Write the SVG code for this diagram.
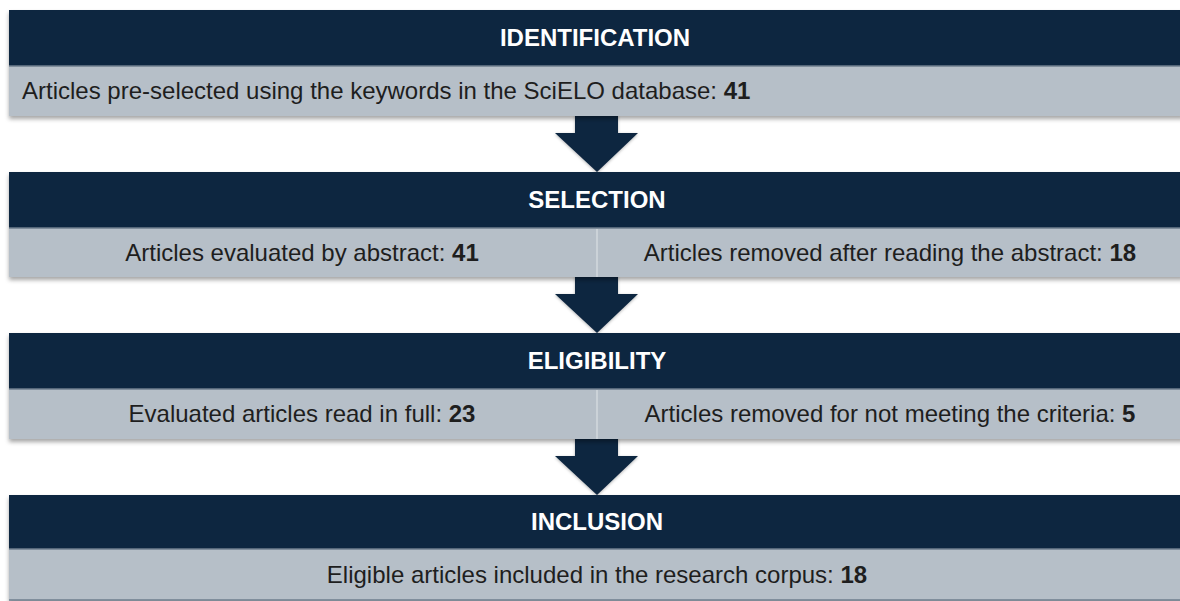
<svg xmlns="http://www.w3.org/2000/svg" width="1180" height="601" viewBox="0 0 1180 601">
<defs>
<filter id="sh" x="-5%" y="-20%" width="110%" height="150%">
<feDropShadow dx="0" dy="3" stdDeviation="2" flood-color="#000" flood-opacity="0.35"/>
</filter>
<filter id="ash" x="-30%" y="-30%" width="160%" height="160%">
<feDropShadow dx="0" dy="1" stdDeviation="1.5" flood-color="#000" flood-opacity="0.3"/>
</filter>
</defs>
<style>
.hd{fill:#0f2740}
.bd{fill:#b6bfc8}
.ln{stroke:#6e7e8e;stroke-width:1.5}
.dv{stroke:#d2d8de;stroke-width:1.5}
.ht{font-family:"Liberation Sans",Arial,sans-serif;font-weight:bold;font-size:24px;fill:#ffffff;text-anchor:middle}
.bt{font-family:"Liberation Sans",Arial,sans-serif;font-size:24px;fill:#1e1e1e}
.c{text-anchor:middle}
.b{font-weight:bold}
.ar{fill:#0f2740}
</style>
<rect width="1180" height="601" fill="#ffffff"/>

<g id="connectors">
<polygon class="ar" filter="url(#ash)" points="575,114 618,114 618,133 638,133 597,172 555,133 575,133"/>
<polygon class="ar" filter="url(#ash)" points="575,275 618,275 618,294 638,294 597,333 555,294 575,294"/>
<polygon class="ar" filter="url(#ash)" points="575,437 618,437 618,456 638,456 597,495 555,456 575,456"/>
</g>

<g id="identification">
<g filter="url(#sh)">
<rect class="hd" x="9" y="10" width="1175" height="56"/>
<rect class="bd" x="9" y="66" width="1175" height="50"/>
</g>
<line class="ln" x1="9" y1="66" x2="1180" y2="66"/>
<text class="ht" x="595" y="46">IDENTIFICATION</text>
<text class="bt" x="22" y="99">Articles pre-selected using the keywords in the SciELO database: <tspan class="b">41</tspan></text>
</g>

<g id="selection">
<g filter="url(#sh)">
<rect class="hd" x="9" y="172" width="1175" height="56"/>
<rect class="bd" x="9" y="228" width="1175" height="49"/>
</g>
<line class="ln" x1="9" y1="228" x2="1180" y2="228"/>
<line class="dv" x1="597" y1="229" x2="597" y2="277"/>
<text class="ht" x="597" y="208">SELECTION</text>
<text class="bt c" x="302" y="261">Articles evaluated by abstract: <tspan class="b">41</tspan></text>
<text class="bt c" x="890" y="261">Articles removed after reading the abstract: <tspan class="b">18</tspan></text>
</g>

<g id="eligibility">
<g filter="url(#sh)">
<rect class="hd" x="9" y="333" width="1175" height="56"/>
<rect class="bd" x="9" y="389" width="1175" height="50"/>
</g>
<line class="ln" x1="9" y1="389" x2="1180" y2="389"/>
<line class="dv" x1="597" y1="390" x2="597" y2="439"/>
<text class="ht" x="597" y="369">ELIGIBILITY</text>
<text class="bt c" x="302" y="422">Evaluated articles read in full: <tspan class="b">23</tspan></text>
<text class="bt c" x="890" y="422">Articles removed for not meeting the criteria: <tspan class="b">5</tspan></text>
</g>

<g id="inclusion">
<g filter="url(#sh)">
<rect class="hd" x="9" y="495" width="1175" height="54"/>
<rect class="bd" x="9" y="549" width="1175" height="51"/>
</g>
<line class="ln" x1="9" y1="549" x2="1180" y2="549"/>
<line class="ln" x1="9" y1="600" x2="1180" y2="600"/>
<text class="ht" x="597" y="530">INCLUSION</text>
<text class="bt c" x="597" y="583">Eligible articles included in the research corpus: <tspan class="b">18</tspan></text>
</g>
</svg>
